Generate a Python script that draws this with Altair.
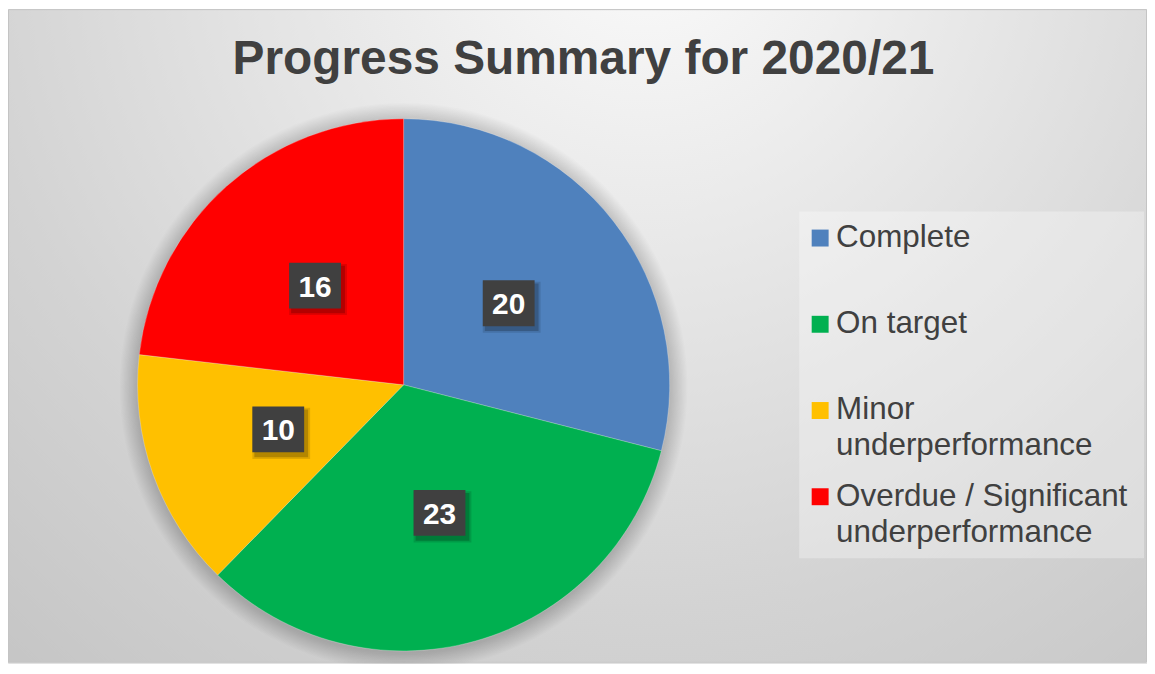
import altair as alt
import pandas as pd

# ---- data ----
categories = ["Complete", "On target", "Minor underperformance", "Overdue / Significant underperformance"]
values = [20, 23, 10, 16]
colors = ["#4F81BD", "#00B050", "#FFC000", "#FF0000"]
title_text = "Progress Summary for 2020/21"

df = pd.DataFrame({"category": categories, "value": values, "order": list(range(len(categories)))})

# ---- layout constants ----
W, H = 1143, 656
CX, CY, R = 397, 377, 267
LABEL_R = 133.5
FONT = "Liberation Sans"
TXT = "#404040"

color_scale = alt.Scale(domain=categories, range=colors)
base = alt.Chart(df)

one = base.transform_aggregate(n="count()")

# background with radial gradient
bg = one.mark_rect(
    fill={
        "gradient": "radial",
        "x1": 0.56, "y1": 0.14, "r1": 0,
        "x2": 0.56, "y2": 0.14, "r2": 1.0,
        "stops": [
            {"offset": 0, "color": "#fbfbfb"},
            {"offset": 0.3, "color": "#e7e7e7"},
            {"offset": 0.6, "color": "#d3d3d3"},
            {"offset": 1, "color": "#bebebe"},
        ],
    },
    stroke="#c4c4c4",
    strokeWidth=1,
).encode(x=alt.value(0.5), x2=alt.value(W - 0.5), y=alt.value(0.5), y2=alt.value(H - 0.5))

# legend panel
legend_box = one.mark_rect(fill="white", fillOpacity=0.3).encode(
    x=alt.value(794), x2=alt.value(1140), y=alt.value(203), y2=alt.value(551)
)

# soft pie shadow
shadows = []
for i in range(14):
    shadows.append(
        one.mark_arc(radius=R + 1 + i * 1.3, theta=0, theta2=6.2832, fill="black", fillOpacity=0.012).encode(
            x=alt.value(CX), y=alt.value(CY + 2)
        )
    )

pie = base.mark_arc(radius=R, stroke="#ffffff", strokeWidth=0.4, strokeOpacity=0.6).encode(
    theta=alt.Theta("value:Q", stack=True),
    color=alt.Color("category:N", scale=color_scale, legend=None),
    order=alt.Order("order:Q"),
    x=alt.value(CX),
    y=alt.value(CY),
)

lab = base.transform_window(
    cum="sum(value)", sort=[alt.SortField("order")], frame=[None, 0]
).transform_joinaggregate(total="sum(value)").transform_calculate(
    mid="(datum.cum - datum.value / 2) / datum.total * 2 * PI"
).transform_calculate(
    bx=f"{CX} + {LABEL_R} * sin(datum.mid)",
    by=f"{CY} - {LABEL_R} * cos(datum.mid)",
)

box_shape = "M-1,-0.885L1,-0.885L1,0.885L-1,0.885Z"
pos = dict(x=alt.X("bx:Q", scale=None, axis=None), y=alt.Y("by:Q", scale=None, axis=None))

box_shadow1 = lab.mark_point(shape=box_shape, size=58 ** 2, filled=True, fill="black", opacity=0.12, strokeWidth=0, xOffset=3, yOffset=4).encode(**pos)
box_shadow2 = lab.mark_point(shape=box_shape, size=54 ** 2, filled=True, fill="black", opacity=0.2, strokeWidth=0, xOffset=3, yOffset=4).encode(**pos)
boxes = lab.mark_point(shape=box_shape, size=52 ** 2, filled=True, fill="#404040", opacity=1, strokeWidth=0).encode(**pos)
box_text = lab.mark_text(font=FONT, fontSize=30, fontWeight="bold", color="white", align="center", baseline="alphabetic", dy=11).encode(
    text=alt.Text("value:Q"), **pos
)

leg_y = alt.Y("category:N", scale=alt.Scale(type="point", domain=categories, range=[229.7, 489.3], padding=0), axis=None)
leg_sym = base.mark_square(size=289, filled=True, opacity=1).encode(
    x=alt.value(815),
    y=leg_y,
    color=alt.Color("category:N", scale=color_scale, legend=None),
)
leg_txt = base.transform_calculate(
    lines="split(replace(datum.category, ' underperformance', '|underperformance'), '|')"
).mark_text(font=FONT, fontSize=31.5, color=TXT, align="left", baseline="top", dy=-16, lineHeight=36).encode(
    x=alt.value(831), y=leg_y, text=alt.Text("lines:N")
)

chart = alt.layer(
    bg, legend_box, *shadows, pie, box_shadow1, box_shadow2, boxes, box_text, leg_sym, leg_txt
).resolve_scale(x="independent", y="independent").properties(
    width=W,
    height=H,
    padding=0,
    autosize=alt.AutoSizeParams(type="none"),
    title=alt.Title(
        title_text, font=FONT, fontSize=48, fontWeight="bold", color=TXT,
        anchor="middle", baseline="alphabetic", offset=0, dy=113, dx=6,
    ),
).configure_view(stroke=None).configure(background="white")

chart.save("out.html", embed_options={"renderer": "svg", "actions": False})
